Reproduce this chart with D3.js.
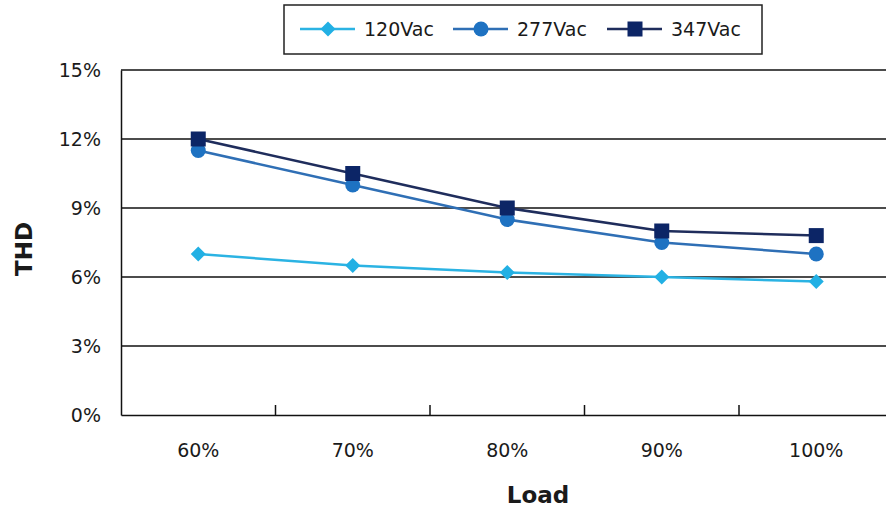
<!DOCTYPE html>
<html>
<head>
<meta charset="utf-8">
<script src="https://cdn.jsdelivr.net/npm/d3@7"></script>
<style>
  html, body { margin: 0; padding: 0; background: #fff; }
  svg { display: block; }
  text { font-family: "DejaVu Sans", Verdana, sans-serif; fill: #1a1a1a; }
</style>
</head>
<body>
<svg id="chart" width="886" height="510"></svg>
<script>
// Load steps on the x axis
const loads = ["60%", "70%", "80%", "90%", "100%"];
// THD (%) per input voltage
const thd120 = [7.0, 6.5, 6.2, 6.0, 5.8];
const thd277 = [11.5, 10.0, 8.5, 7.5, 7.0];
const thd347 = [12.0, 10.5, 9.0, 8.0, 7.8];
const seriesNames = ["120Vac", "277Vac", "347Vac"];
const yTicks = [0, 3, 6, 9, 12, 15];

const series = [
  { name: seriesNames[0], values: thd120, line: "#2bb3e3", fill: "#22b0e4", shape: "diamond" },
  { name: seriesNames[1], values: thd277, line: "#2f6fb5", fill: "#1e72c2", shape: "circle" },
  { name: seriesNames[2], values: thd347, line: "#1f2d5c", fill: "#0c2566", shape: "square" }
];

const svg = d3.select("#chart");
const plotLeft = 121, bandW = 154.5, plotTop = 70, plotBottom = 415;

const x = d3.scaleBand().domain(loads).range([plotLeft, plotLeft + bandW * loads.length]).padding(0);
const y = d3.scaleLinear().domain([0, 15]).range([plotBottom, plotTop]);

// horizontal gridlines
svg.append("g").selectAll("line").data(yTicks.filter(d => d > 0)).join("line")
  .attr("x1", plotLeft).attr("x2", plotLeft + bandW * loads.length)
  .attr("y1", d => y(d)).attr("y2", d => y(d))
  .attr("stroke", "#111").attr("stroke-width", 1.5);

// y axis
const yAxis = svg.append("g").attr("transform", `translate(${plotLeft},0)`)
  .call(d3.axisLeft(y).tickValues(yTicks).tickSize(0).tickPadding(20).tickFormat(d => d + "%"));
yAxis.select(".domain").attr("stroke", "#111").attr("stroke-width", 1.5);
yAxis.selectAll("text").attr("font-size", 19).attr("fill", "#1a1a1a")
  .attr("font-family", "DejaVu Sans, sans-serif");

// x axis with ticks between categories, pointing into the plot
const xAxis = svg.append("g").attr("transform", `translate(0,${plotBottom})`)
  .call(d3.axisBottom(x).tickSize(0).tickPadding(29));
xAxis.select(".domain").attr("stroke", "#111").attr("stroke-width", 1.5);
xAxis.selectAll("text").attr("font-size", 19).attr("fill", "#1a1a1a")
  .attr("font-family", "DejaVu Sans, sans-serif");
svg.append("g").selectAll("line").data(loads.slice(1)).join("line")
  .attr("x1", d => x(d)).attr("x2", d => x(d))
  .attr("y1", plotBottom).attr("y2", plotBottom - 10)
  .attr("stroke", "#111").attr("stroke-width", 1.5);

// axis titles
svg.append("text").attr("x", 538).attr("y", 503).attr("text-anchor", "middle")
  .attr("font-size", 23).attr("font-weight", "bold").text("Load");
svg.append("text").attr("transform", "translate(32,249) rotate(-90)").attr("text-anchor", "middle")
  .attr("font-size", 23).attr("font-weight", "bold").text("THD");

function marker(sel, s, cx, cy) {
  if (s.shape === "diamond") {
    sel.append("path").attr("d", `M${cx},${cy - 7.5}L${cx + 7.5},${cy}L${cx},${cy + 7.5}L${cx - 7.5},${cy}Z`)
      .attr("fill", s.fill);
  } else if (s.shape === "circle") {
    sel.append("circle").attr("cx", cx).attr("cy", cy).attr("r", 7.5).attr("fill", s.fill);
  } else {
    sel.append("rect").attr("x", cx - 7.5).attr("y", cy - 7.5).attr("width", 15).attr("height", 15)
      .attr("fill", s.fill);
  }
}

const cx = d => x(d) + x.bandwidth() / 2;
const line = d3.line().x(d => cx(d.load)).y(d => y(d.v));

series.forEach(s => {
  const pts = loads.map((l, i) => ({ load: l, v: s.values[i] }));
  const g = svg.append("g");
  g.append("path").datum(pts).attr("d", line).attr("fill", "none")
    .attr("stroke", s.line).attr("stroke-width", 2.5);
  pts.forEach(p => marker(g, s, cx(p.load), y(p.v)));
});

// legend
const lg = svg.append("g");
lg.append("rect").attr("x", 284).attr("y", 5).attr("width", 478).attr("height", 49)
  .attr("fill", "#fff").attr("stroke", "#222").attr("stroke-width", 1.5);
const legendX = [300, 453, 607];
series.forEach((s, i) => {
  const lx = legendX[i], ly = 29;
  lg.append("line").attr("x1", lx).attr("x2", lx + 55).attr("y1", ly).attr("y2", ly)
    .attr("stroke", s.line).attr("stroke-width", 2.5);
  marker(lg, s, lx + 28, ly);
  lg.append("text").attr("x", lx + 64).attr("y", ly).attr("dy", "0.36em")
    .attr("font-size", 19).text(s.name);
});
</script>
</body>
</html>
